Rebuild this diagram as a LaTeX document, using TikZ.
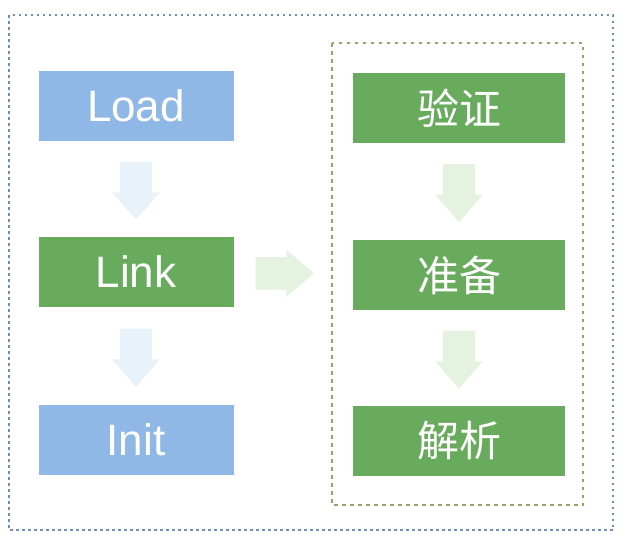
\documentclass[tikz,border=0pt]{standalone}
\usepackage{fontspec}
\setmainfont{Liberation Sans}
\newfontfamily\cjk{Noto Sans CJK SC}
\usetikzlibrary{shapes.arrows}

\definecolor{stageblue}{RGB}{143,184,230}
\definecolor{stagegreen}{RGB}{104,171,93}
\definecolor{paleblue}{RGB}{232,242,250}
\definecolor{palegreen}{RGB}{230,242,224}
\definecolor{frameblue}{RGB}{110,142,190}
\definecolor{framegreen}{RGB}{146,168,104}

\tikzset{
    stagebox/.style={text=white, minimum height=70pt, inner sep=0pt},
    loadbox/.style={stagebox, fill=stageblue, minimum width=195pt,
        font=\fontsize{44}{48}\selectfont},
    linkbox/.style={stagebox, fill=stagegreen, minimum width=195pt,
        font=\fontsize{44}{48}\selectfont},
    substep/.style={stagebox, fill=stagegreen, minimum width=212pt,
        font=\cjk\fontsize{42}{46}\selectfont},
    fatarrow/.style={single arrow, draw=none, inner xsep=0pt, inner ysep=16pt,
        minimum height=58pt,
        single arrow head extend=7.5pt, single arrow tip angle=82},
    downarrow/.style={fatarrow, inner xsep=16pt, inner ysep=0pt,
        shape border rotate=270, pos=0.42},
}

\begin{document}
\begin{tikzpicture}[x=1pt, y=-1pt]
    \useasboundingbox (0,0) rectangle (628,550);
    % frames
    \draw[frameblue, line width=1.2pt, dash pattern=on 2.5pt off 3.5pt]
        (9,15) rectangle (613,530);
    \draw[framegreen, line width=1.2pt, dash pattern=on 3.5pt off 4.5pt]
        (332,43) rectangle (583,505);
    % left column
    \node[loadbox] (load) at (136,106) {Load};
    \node[linkbox] (link) at (136,272) {Link};
    \node[loadbox] (init) at (136,440) {Init};
    % right column
    \node[substep] (verify) at (459,108) {验证};
    \node[substep] (prepare) at (459,275) {准备};
    \node[substep] (resolve) at (459,441) {解析};
    % arrows
    \path (load) -- (link) node[downarrow, fill=paleblue] {};
    \path (link) -- (init) node[downarrow, fill=paleblue] {};
    \path (link) -- (prepare) node[pos=0.35, fatarrow, fill=palegreen] {};
    \path (verify) -- (prepare) node[downarrow, fill=palegreen] {};
    \path (prepare) -- (resolve) node[downarrow, fill=palegreen] {};
\end{tikzpicture}
\end{document}
